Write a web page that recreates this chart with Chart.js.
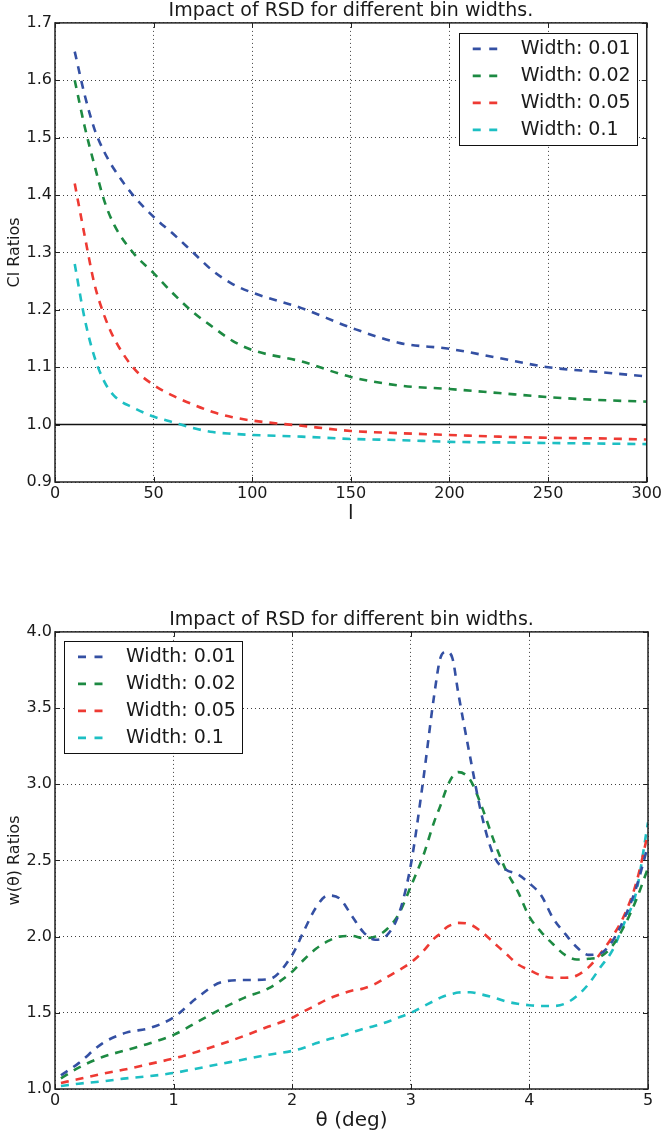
<!DOCTYPE html>
<html>
<head>
<meta charset="utf-8">
<script src="https://cdn.jsdelivr.net/npm/chart.js@4/dist/chart.umd.min.js"></script>
<style>
  body { margin: 0; background: #fff; }
  .panel { position: absolute; left: 0; }
</style>
</head>
<body>
<div class="panel" style="top:0"><canvas id="clChart" width="664" height="530"></canvas></div>
<div class="panel" style="top:609px"><canvas id="wChart" width="664" height="528"></canvas></div>
<script>
// --- data ---
const widthLabels = ['Width: 0.01', 'Width: 0.02', 'Width: 0.05', 'Width: 0.1'];

// top panel: Cl ratios vs l
const ellValues = [10, 15, 20, 25, 30, 40, 50, 60, 70, 80, 90, 100, 125, 150, 175, 200, 225, 250, 275, 300];
const clWidth001 = [1.65, 1.575, 1.515, 1.475, 1.445, 1.398, 1.362, 1.332, 1.300, 1.268, 1.245, 1.230, 1.203, 1.169, 1.142, 1.132, 1.116, 1.100, 1.092, 1.084];
const clWidth002 = [1.60, 1.52, 1.452, 1.39, 1.348, 1.298, 1.264, 1.228, 1.196, 1.170, 1.146, 1.130, 1.110, 1.083, 1.068, 1.062, 1.055, 1.048, 1.043, 1.040];
const clWidth005 = [1.42, 1.33, 1.245, 1.19, 1.15, 1.098, 1.069, 1.050, 1.035, 1.022, 1.013, 1.007, 0.998, 0.989, 0.985, 0.982, 0.979, 0.977, 0.976, 0.974];
const clWidth01 = [1.28, 1.185, 1.118, 1.075, 1.05, 1.029, 1.014, 1.004, 0.994, 0.987, 0.984, 0.982, 0.979, 0.975, 0.973, 0.970, 0.969, 0.968, 0.967, 0.966];
const refLineX = [0, 300];
const refLineY = [1.0, 1.0];
const clXTicks = [0, 50, 100, 150, 200, 250, 300];
const clYTicks = [0.9, 1.0, 1.1, 1.2, 1.3, 1.4, 1.5, 1.6, 1.7];

// bottom panel: w(theta) ratios vs theta
const thetaValues = [0.05, 0.2, 0.4, 0.6, 0.8, 1.0, 1.2, 1.4, 1.6, 1.8, 2.0, 2.1, 2.2, 2.3, 2.4, 2.5, 2.6, 2.7, 2.8, 2.9,
  3.0, 3.1, 3.2, 3.25, 3.3, 3.35, 3.4, 3.5, 3.6, 3.7, 3.8, 3.9, 4.0, 4.1, 4.2, 4.3, 4.4, 4.5, 4.6, 4.7, 4.8, 4.9, 5.0];
const wWidth001 = [1.09, 1.17, 1.30, 1.37, 1.40, 1.47, 1.60, 1.70, 1.715, 1.72, 1.88, 2.04, 2.19, 2.27, 2.25, 2.14, 2.03, 1.98, 2.01, 2.15,
  2.47, 3.00, 3.60, 3.83, 3.87, 3.83, 3.60, 3.18, 2.79, 2.53, 2.44, 2.41, 2.35, 2.27, 2.12, 2.02, 1.93, 1.88, 1.89, 1.97, 2.12, 2.32, 2.60];
const wWidth002 = [1.07, 1.14, 1.21, 1.255, 1.30, 1.355, 1.44, 1.525, 1.60, 1.66, 1.77, 1.85, 1.92, 1.97, 2.00, 2.005, 1.99, 2.00, 2.05, 2.15,
  2.33, 2.52, 2.76, 2.86, 2.97, 3.05, 3.08, 3.03, 2.85, 2.63, 2.44, 2.30, 2.13, 2.03, 1.95, 1.88, 1.85, 1.855, 1.87, 1.94, 2.07, 2.24, 2.45];
const wWidth005 = [1.04, 1.065, 1.10, 1.13, 1.165, 1.20, 1.245, 1.295, 1.35, 1.41, 1.467, 1.51, 1.55, 1.59, 1.62, 1.645, 1.66, 1.69, 1.735, 1.78,
  1.83, 1.90, 1.99, 2.02, 2.06, 2.08, 2.09, 2.08, 2.03, 1.96, 1.89, 1.82, 1.78, 1.745, 1.73, 1.73, 1.745, 1.80, 1.89, 2.00, 2.14, 2.35, 2.68];
const wWidth01 = [1.02, 1.035, 1.05, 1.07, 1.085, 1.105, 1.135, 1.165, 1.195, 1.225, 1.25, 1.27, 1.30, 1.325, 1.345, 1.37, 1.395, 1.415, 1.44, 1.47,
  1.50, 1.54, 1.58, 1.60, 1.615, 1.625, 1.633, 1.635, 1.62, 1.60, 1.575, 1.56, 1.55, 1.545, 1.545, 1.56, 1.61, 1.69, 1.80, 1.91, 2.09, 2.29, 2.75];
const wXTicks = [0, 1, 2, 3, 4, 5];
const wYTicks = [1.0, 1.5, 2.0, 2.5, 3.0, 3.5, 4.0];

// --- styling ---
const COLORS = ['#3450a3', '#1d8a42', '#ee3a33', '#1dbfc3'];
const FONT = 'DejaVu Sans';
const TEXT = '#1a1a1a';

const zip = (xs, ys) => xs.map((x, i) => ({ x: x, y: ys[i] }));

// frame + inward tick marks on all four sides, like matplotlib
const frameTicks = {
    id: 'frameTicks',
    afterDatasetsDraw(chart, args, opts) {
        const { ctx, chartArea: a, scales } = chart;
        const L = opts.length;
        ctx.save();
        ctx.strokeStyle = opts.color;
        ctx.lineWidth = 1;
        ctx.beginPath();
        scales.x.ticks.forEach(t => {
            const px = Math.round(scales.x.getPixelForValue(t.value)) + 0.5;
            ctx.moveTo(px, a.bottom); ctx.lineTo(px, a.bottom - L);
            ctx.moveTo(px, a.top); ctx.lineTo(px, a.top + L);
        });
        scales.y.ticks.forEach(t => {
            const py = Math.round(scales.y.getPixelForValue(t.value)) + 0.5;
            ctx.moveTo(a.left, py); ctx.lineTo(a.left + L, py);
            ctx.moveTo(a.right, py); ctx.lineTo(a.right - L, py);
        });
        ctx.stroke();
        ctx.lineWidth = opts.frameWidth;
        ctx.strokeRect(a.left, a.top, a.right - a.left, a.bottom - a.top);
        ctx.restore();
    }
};

// boxed legend inside the axes
const boxLegend = {
    id: 'boxLegend',
    afterDraw(chart, args, opts) {
        const { ctx, chartArea: a } = chart;
        const left = opts.corner === 'right' ? a.right - opts.margin - opts.width : a.left + opts.margin;
        const top = a.top + opts.margin;
        ctx.save();
        ctx.fillStyle = '#fff';
        ctx.fillRect(left, top, opts.width, opts.height);
        ctx.strokeStyle = '#111';
        ctx.lineWidth = 1;
        ctx.strokeRect(Math.round(left) + 0.5, Math.round(top) + 0.5, opts.width, opts.height);
        ctx.font = opts.fontSize + 'px ' + FONT;
        ctx.textBaseline = 'middle';
        ctx.fillStyle = TEXT;
        let row = 0;
        chart.data.datasets.forEach(ds => {
            if (!ds.label) return;
            const y = top + opts.firstRow + row * opts.rowHeight;
            ctx.save();
            ctx.strokeStyle = ds.borderColor;
            ctx.lineWidth = ds.borderWidth;
            ctx.setLineDash([8, 8.5]);
            ctx.beginPath();
            ctx.moveTo(left + opts.sampleOffset, y);
            ctx.lineTo(left + opts.sampleOffset + 25, y);
            ctx.stroke();
            ctx.restore();
            ctx.fillText(ds.label, left + opts.textOffset, y);
            row++;
        });
        ctx.restore();
    }
};

function curve(label, data, color) {
    return {
        label: label,
        data: data,
        borderColor: color,
        borderWidth: 2.6,
        borderDash: [8, 7],
        pointRadius: 0,
        fill: false,
        cubicInterpolationMode: 'monotone'
    };
}

function axisOptions(ticksArr, min, max, fmt, title, titleSize, titlePad, isX) {
    return {
        type: 'linear',
        min: min,
        max: max,
        afterBuildTicks: s => { s.ticks = ticksArr.map(v => ({ value: v })); },
        afterFit: s => { if (isX) s.height = 48; else s.width = 55; },
        ticks: {
            autoSkip: false,
            maxRotation: 0,
            padding: isX ? 2 : 3,
            color: TEXT,
            font: { family: FONT, size: 16 },
            callback: fmt
        },
        grid: { color: 'rgba(0,0,0,0.75)', lineWidth: 1, drawTicks: false },
        border: { display: false, dash: [1, 3] },
        title: {
            display: true,
            text: title,
            color: TEXT,
            font: { family: FONT, size: titleSize, lineHeight: 1.2 },
            padding: isX ? { top: 0, bottom: titlePad } : { top: titlePad, bottom: 0 }
        }
    };
}

function buildChart(canvasId, datasets, xAxis, yAxis, legendCorner) {
    return new Chart(document.getElementById(canvasId), {
        type: 'line',
        data: { datasets: datasets },
        options: {
            responsive: false,
            animation: false,
            events: [],
            layout: { padding: { left: 0, right: 16, top: 1, bottom: 0 } },
            scales: { x: xAxis, y: yAxis },
            plugins: {
                legend: { display: false },
                tooltip: { enabled: false },
                title: {
                    display: true,
                    text: 'Impact of RSD for different bin widths.',
                    color: TEXT,
                    fullSize: false,
                    font: { family: FONT, size: 19, weight: 'normal', lineHeight: 1.1 },
                    padding: { top: 0, bottom: 1 }
                },
                frameTicks: { color: '#222', length: 5, frameWidth: 1.5 },
                boxLegend: {
                    corner: legendCorner,
                    margin: legendCorner === 'right' ? 10 : 9,
                    width: 178,
                    height: 112,
                    firstRow: 16,
                    rowHeight: 27,
                    sampleOffset: 14,
                    textOffset: 62,
                    fontSize: 19
                }
            }
        },
        plugins: [frameTicks, boxLegend]
    });
}

const clSets = [
    curve(widthLabels[0], zip(ellValues, clWidth001), COLORS[0]),
    curve(widthLabels[1], zip(ellValues, clWidth002), COLORS[1]),
    curve(widthLabels[2], zip(ellValues, clWidth005), COLORS[2]),
    curve(widthLabels[3], zip(ellValues, clWidth01), COLORS[3]),
    { label: '', data: zip(refLineX, refLineY), borderColor: '#111', borderWidth: 1.5, pointRadius: 0 }
];
buildChart('clChart', clSets,
    axisOptions(clXTicks, 0, 300, v => String(v), 'l', 20, 4.6, true),
    axisOptions(clYTicks, 0.9, 1.7, v => v.toFixed(1), 'Cl Ratios', 16, 5, false),
    'right');

const wSets = [
    curve(widthLabels[0], zip(thetaValues, wWidth001), COLORS[0]),
    curve(widthLabels[1], zip(thetaValues, wWidth002), COLORS[1]),
    curve(widthLabels[2], zip(thetaValues, wWidth005), COLORS[2]),
    curve(widthLabels[3], zip(thetaValues, wWidth01), COLORS[3])
];
buildChart('wChart', wSets,
    axisOptions(wXTicks, 0, 5, v => String(v), 'θ (deg)', 20, 4.6, true),
    axisOptions(wYTicks, 1, 4, v => v.toFixed(1), 'w(θ) Ratios', 16, 5, false),
    'left');
</script>
</body>
</html>
